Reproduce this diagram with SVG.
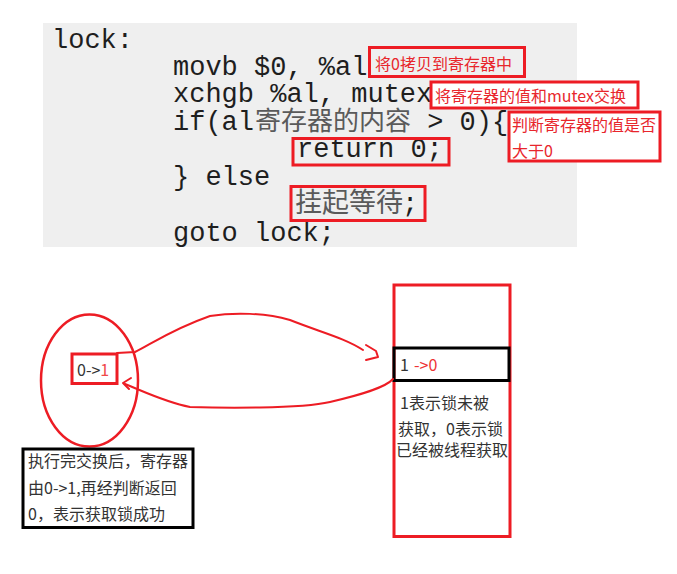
<svg xmlns="http://www.w3.org/2000/svg" width="677" height="574" viewBox="0 0 677 574">
<style>
.code{font-family:"Liberation Mono","Courier New",monospace;font-size:27px;fill:#1e1e1e}
.cjkg{font-family:"Noto Sans CJK SC","Noto Sans",sans-serif;fill:#5a5a5a}
.lbl{font-family:"Noto Sans CJK SC","Noto Sans",sans-serif;font-size:16px;fill:#e8262c}
.txt{font-family:"Noto Sans CJK SC","Noto Sans",sans-serif;font-size:16px;fill:#333}
.rbox{fill:none;stroke:#ed1c24;stroke-width:3}
.kbox{fill:none;stroke:#000;stroke-width:3}
.curve{fill:none;stroke:#ed1c24;stroke-width:2;stroke-linejoin:round;stroke-linecap:round}
</style>
<rect width="677" height="574" fill="#fff"/>
<g id="code">
<rect x="43" y="23" width="534" height="224" fill="#efefef"/>
<text class="code" x="52" y="48">lock:</text>
<text class="code" x="173" y="75">movb $0, %al</text>
<text class="code" x="173" y="102">xchgb %al, mutex</text>
<text class="code" x="173" y="130">if(al</text>
<text class="cjkg" x="255" y="130" font-size="26">寄存器的内容</text>
<text class="code" x="411" y="130" xml:space="preserve"> &gt; 0){</text>
<text class="code" x="297" y="157">return 0;</text>
<text class="code" x="173" y="185">} else</text>
<text class="cjkg" x="295" y="212" font-size="27">挂起等待</text>
<text class="code" x="402" y="212">;</text>
<text class="code" x="173" y="241">goto lock;</text>
</g>
<g id="label-movb">
<rect class="rbox" x="369.5" y="47.5" width="155" height="29" style="fill:#efefef"/>
<text class="lbl" x="375" y="70">将0拷贝到寄存器中</text>
</g>
<g id="label-xchg">
<rect class="rbox" x="431" y="82" width="207" height="26" style="fill:#fff"/>
<text class="lbl" x="435" y="102" textLength="191" lengthAdjust="spacingAndGlyphs">将寄存器的值和mutex交换</text>
</g>
<g id="label-if">
<rect class="rbox" x="509" y="112" width="151" height="49" style="fill:#fff"/>
<text class="lbl" x="512" y="131">判断寄存器的值是否</text>
<text class="lbl" x="512" y="157">大于0</text>
</g>
<g id="box-return">
<rect class="rbox" x="293" y="138.5" width="156" height="26.5"/>
</g>
<g id="box-wait">
<rect class="rbox" x="291" y="186.5" width="134" height="34"/>
</g>
<g id="register">
<ellipse cx="89.5" cy="380.5" rx="48.5" ry="66" fill="none" stroke="#ed1c24" stroke-width="2.5"/>
<rect class="rbox" x="72" y="354" width="45" height="29.5"/>
<text class="txt" x="77" y="376" font-size="17">0-&gt;<tspan fill="#f04848">1</tspan></text>
</g>
<g id="note">
<rect class="kbox" x="23" y="449" width="170" height="78.5" fill="#fff"/>
<text class="txt" x="28" y="467">执行完交换后，寄存器</text>
<text class="txt" x="28" y="494">由0-&gt;1,再经判断返回</text>
<text class="txt" x="28" y="520">0，表示获取锁成功</text>
</g>
<g id="mutex">
<rect class="rbox" x="394" y="285" width="116" height="251.5" fill="#fff"/>
<rect class="kbox" x="394" y="348" width="115" height="32.5"/>
<text class="txt" x="400" y="371">1</text>
<text class="txt" x="414" y="371" style="fill:#ee3333">-&gt;0</text>
<text class="txt" x="400" y="409">1表示锁未被</text>
<text class="txt" x="398" y="435">获取，0表示锁</text>
<text class="txt" x="396" y="456">已经被线程获取</text>
</g>
<g id="connectors">
<path class="curve" d="M117,353 L135,352 C150,345 170,330 210,316 C235,312 265,313 290,320 C320,332 345,338 363,350"/>
<path class="curve" d="M366,345 L376,351 L378,357 L366,360"/>
<path class="curve" d="M393,379 C385,388 360,395 330,402 C300,409 220,408 190,407 C165,402 145,392 125,384"/>
<path class="curve" d="M131,378 L123,383 L129,389"/>
</g>
</svg>
